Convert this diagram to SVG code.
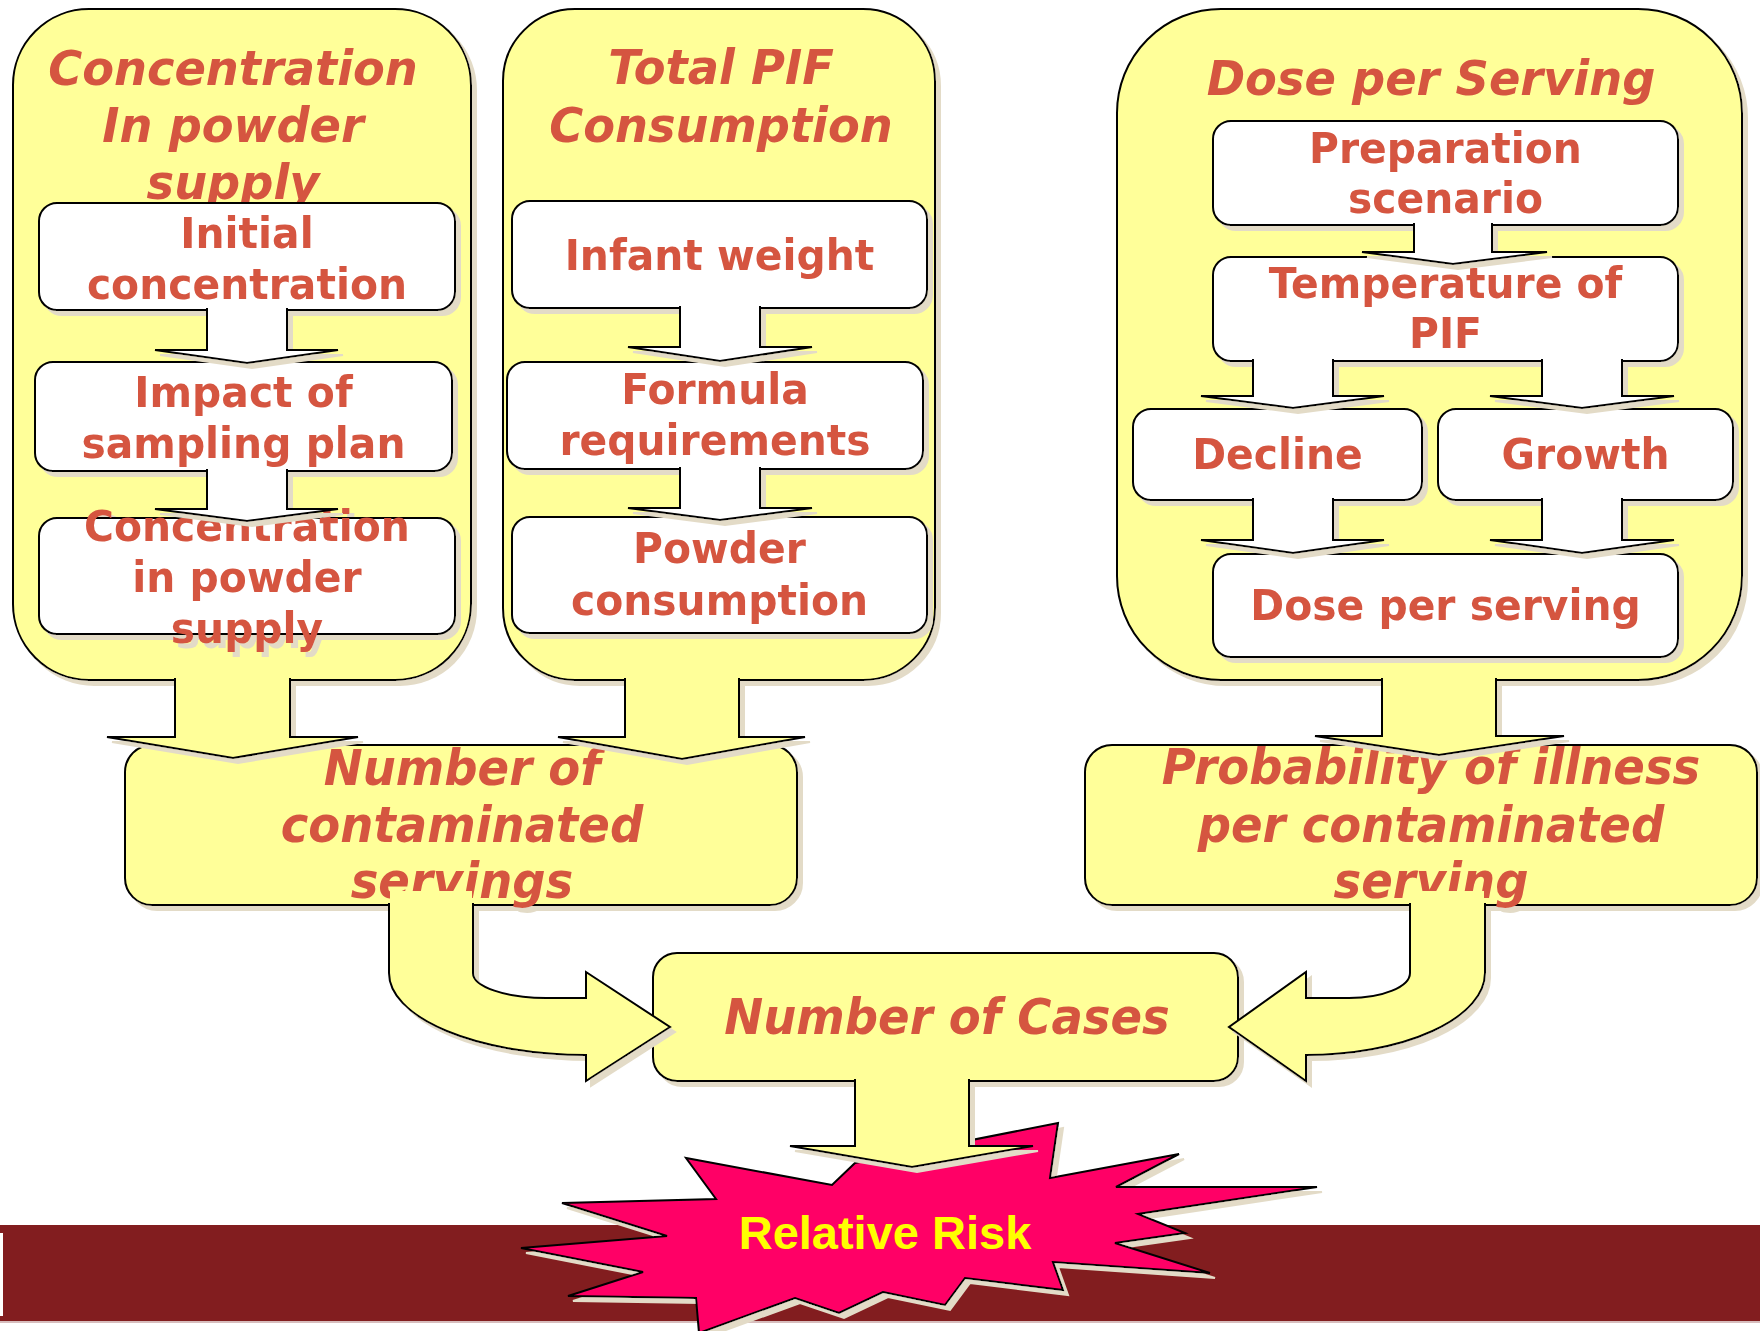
<svg xmlns="http://www.w3.org/2000/svg" width="1760" height="1331" viewBox="0 0 1760 1331">
<defs>
<filter id="ds" x="-10%" y="-10%" width="130%" height="140%">
<feOffset in="SourceAlpha" dx="5" dy="5" result="o"/>
<feFlood flood-color="#E3DBC7"/>
<feComposite in2="o" operator="in"/>
<feMerge><feMergeNode/><feMergeNode in="SourceGraphic"/></feMerge>
</filter>
</defs>
<style>
.cont{fill:#FFFF99;stroke:#000;stroke-width:2}
.box{fill:#FFFFFF;stroke:#000;stroke-width:2}
.n{filter:url(#ds)}
.t{font-family:"DejaVu Sans",Verdana,sans-serif;font-weight:bold;fill:#D55540;text-anchor:middle;transform:scaleX(0.95);transform-box:fill-box;transform-origin:center}
.ti{font-style:italic;font-size:48px;transform:scaleX(0.965)}
.tb{font-size:43px}
.tl{font-style:italic;font-size:49px}
.aw{fill:#FFFFFF;stroke:#000;stroke-width:2;stroke-linejoin:miter;filter:url(#ds)}
.ay{fill:#FFFF99;stroke:#000;stroke-width:2;stroke-linejoin:miter;filter:url(#ds)}
.yf{fill:#FFFF99}
.rr{font-family:"Liberation Sans",Arial,sans-serif;font-weight:bold;font-size:47px;fill:#FFFF00;text-anchor:middle}
</style>
<rect x="0" y="0" width="1760" height="1331" fill="#FFFFFF"/>
<g id="bar">
<rect x="0" y="1225" width="1760" height="96" fill="#821D1F"/>
<rect x="0" y="1321" width="1760" height="2" fill="#D7BDBD"/>
<rect x="0" y="1233" width="3" height="83" fill="#FFFFFF"/>
</g>

<g id="concentration-group" class="n">
<rect class="cont" x="13" y="9" width="458" height="671" rx="76"/>
<text class="t ti" x="233" y="85">Concentration</text>
<text class="t ti" x="233" y="142">In powder</text>
<text class="t ti" x="233" y="199">supply</text>
</g>
<g id="initial-concentration" class="n">
<rect class="box" x="39" y="203" width="416" height="107" rx="18"/>
<text class="t tb" x="247" y="248">Initial</text>
<text class="t tb" x="247" y="299">concentration</text>
</g>
<g id="impact-sampling" class="n">
<rect class="box" x="35" y="362" width="417" height="109" rx="18"/>
<text class="t tb" x="243.5" y="407">Impact of</text>
<text class="t tb" x="243.5" y="458">sampling plan</text>
</g>
<g id="concentration-powder" class="n">
<rect class="box" x="39" y="518" width="416" height="116" rx="18"/>
<text class="t tb" x="247" y="541">Concentration</text>
<text class="t tb" x="247" y="592">in powder</text>
<text class="t tb" x="247" y="643">supply</text>
</g>

<g id="total-pif-group" class="n">
<rect class="cont" x="503" y="9" width="432" height="671" rx="72"/>
<text class="t ti" x="721" y="84">Total PIF</text>
<text class="t ti" x="721" y="142">Consumption</text>
</g>
<g id="infant-weight" class="n">
<rect class="box" x="512" y="201" width="415" height="107" rx="18"/>
<text class="t tb" x="719.5" y="270">Infant weight</text>
</g>
<g id="formula-requirements" class="n">
<rect class="box" x="507" y="362" width="416" height="107" rx="18"/>
<text class="t tb" x="715" y="404">Formula</text>
<text class="t tb" x="715" y="455">requirements</text>
</g>
<g id="powder-consumption" class="n">
<rect class="box" x="512" y="517" width="415" height="116" rx="18"/>
<text class="t tb" x="719.5" y="563">Powder</text>
<text class="t tb" x="719.5" y="615">consumption</text>
</g>

<g id="dose-group" class="n">
<rect class="cont" x="1117" y="9" width="625" height="671" rx="104"/>
<text class="t ti" x="1431" y="95">Dose per Serving</text>
</g>
<g id="preparation-scenario" class="n">
<rect class="box" x="1213" y="121" width="465" height="104" rx="18"/>
<text class="t tb" x="1445.5" y="163">Preparation</text>
<text class="t tb" x="1445.5" y="213">scenario</text>
</g>
<g id="temperature-pif" class="n">
<rect class="box" x="1213" y="257" width="465" height="104" rx="18"/>
<text class="t tb" x="1445.5" y="298">Temperature of</text>
<text class="t tb" x="1445.5" y="348">PIF</text>
</g>
<g id="decline" class="n">
<rect class="box" x="1133" y="409" width="289" height="91" rx="18"/>
<text class="t tb" x="1277.5" y="469">Decline</text>
</g>
<g id="growth" class="n">
<rect class="box" x="1438" y="409" width="295" height="91" rx="18"/>
<text class="t tb" x="1585.5" y="469">Growth</text>
</g>
<g id="dose-per-serving" class="n">
<rect class="box" x="1213" y="554" width="465" height="103" rx="18"/>
<text class="t tb" x="1445.5" y="620">Dose per serving</text>
</g>

<g id="contaminated-servings" class="n">
<rect class="cont" x="125" y="745" width="672" height="160" rx="27"/>
<text class="t tl" x="462" y="785">Number of</text>
<text class="t tl" x="462" y="842">contaminated</text>
<text class="t tl" x="462" y="898">servings</text>
</g>
<g id="probability-illness" class="n">
<rect class="cont" x="1085" y="745" width="672" height="160" rx="27"/>
<text class="t tl" x="1431" y="784">Probability of illness</text>
<text class="t tl" x="1431" y="842">per contaminated</text>
<text class="t tl" x="1431" y="898">serving</text>
</g>
<g id="number-of-cases" class="n">
<rect class="cont" x="653" y="953" width="585" height="128" rx="24"/>
<text class="t tl" x="947" y="1034">Number of Cases</text>
</g>
<g id="relative-risk">
<polygon class="n" fill="#FF0066" stroke="#000" stroke-width="2" points="1058,1123 1050,1178 1179,1154 1116,1187 1317,1187 1138,1214 1185,1233 1115,1243 1210,1273 1053,1262 1063,1290 965,1278 945,1305 883,1292 839,1313 795,1298 699,1333 696,1298 568,1296 643,1272 521,1248 667,1236 562,1203 716,1199 686,1158 832,1185 855,1163"/>
<text class="rr" x="885" y="1249">Relative Risk</text>
</g>

<g id="connectors">
<path class="aw" d="M207 308 L207 350 L155 350 L247 363 L338 350 L287 350 L287 308"/>
<path class="aw" d="M207 469 L207 509 L155 509 L247 521 L338 509 L287 509 L287 469"/>
<path class="aw" d="M680 306 L680 347 L628 347 L720 361 L812 347 L760 347 L760 306"/>
<path class="aw" d="M680 467 L680 508 L628 508 L720 520 L812 508 L760 508 L760 467"/>
<path class="aw" d="M1414 223 L1414 252 L1362 252 L1453 264 L1547 252 L1492 252 L1492 223"/>
<path class="aw" d="M1253 359 L1253 396 L1201 396 L1293 408 L1384 396 L1333 396 L1333 359"/>
<path class="aw" d="M1542 359 L1542 396 L1490 396 L1582 408 L1674 396 L1622 396 L1622 359"/>
<path class="aw" d="M1253 498 L1253 540 L1201 540 L1293 553 L1384 540 L1333 540 L1333 498"/>
<path class="aw" d="M1542 498 L1542 540 L1490 540 L1582 553 L1674 540 L1622 540 L1622 498"/>
<path class="ay" d="M175 678 L175 737 L107 737 L233 758 L358 737 L290 737 L290 678"/>
<path class="ay" d="M625 678 L625 737 L558 737 L682 759 L805 737 L739 737 L739 678"/>
<path class="ay" d="M1382 678 L1382 736 L1315 736 L1439 755 L1564 736 L1496 736 L1496 678"/>
<path class="ay" d="M855 1079 L855 1146 L790 1146 L912 1167 L1033 1146 L969 1146 L969 1079"/>
<path class="ay" d="M473 903 L473 973 A73 25 0 0 0 546 998 L586 998 L586 972 L670 1027 L586 1081 L586 1055 A197 82 0 0 1 389 973 L389 903"/>
<rect class="yf" x="390" y="891" width="82" height="14"/>
<path class="ay" d="M1410 903 L1410 973 A61 25 0 0 1 1349 998 L1306 998 L1306 972 L1229 1027 L1306 1081 L1306 1055 A179 82 0 0 0 1485 973 L1485 903"/>
<rect class="yf" x="1411" y="891" width="73" height="14"/>
</g>
</svg>
